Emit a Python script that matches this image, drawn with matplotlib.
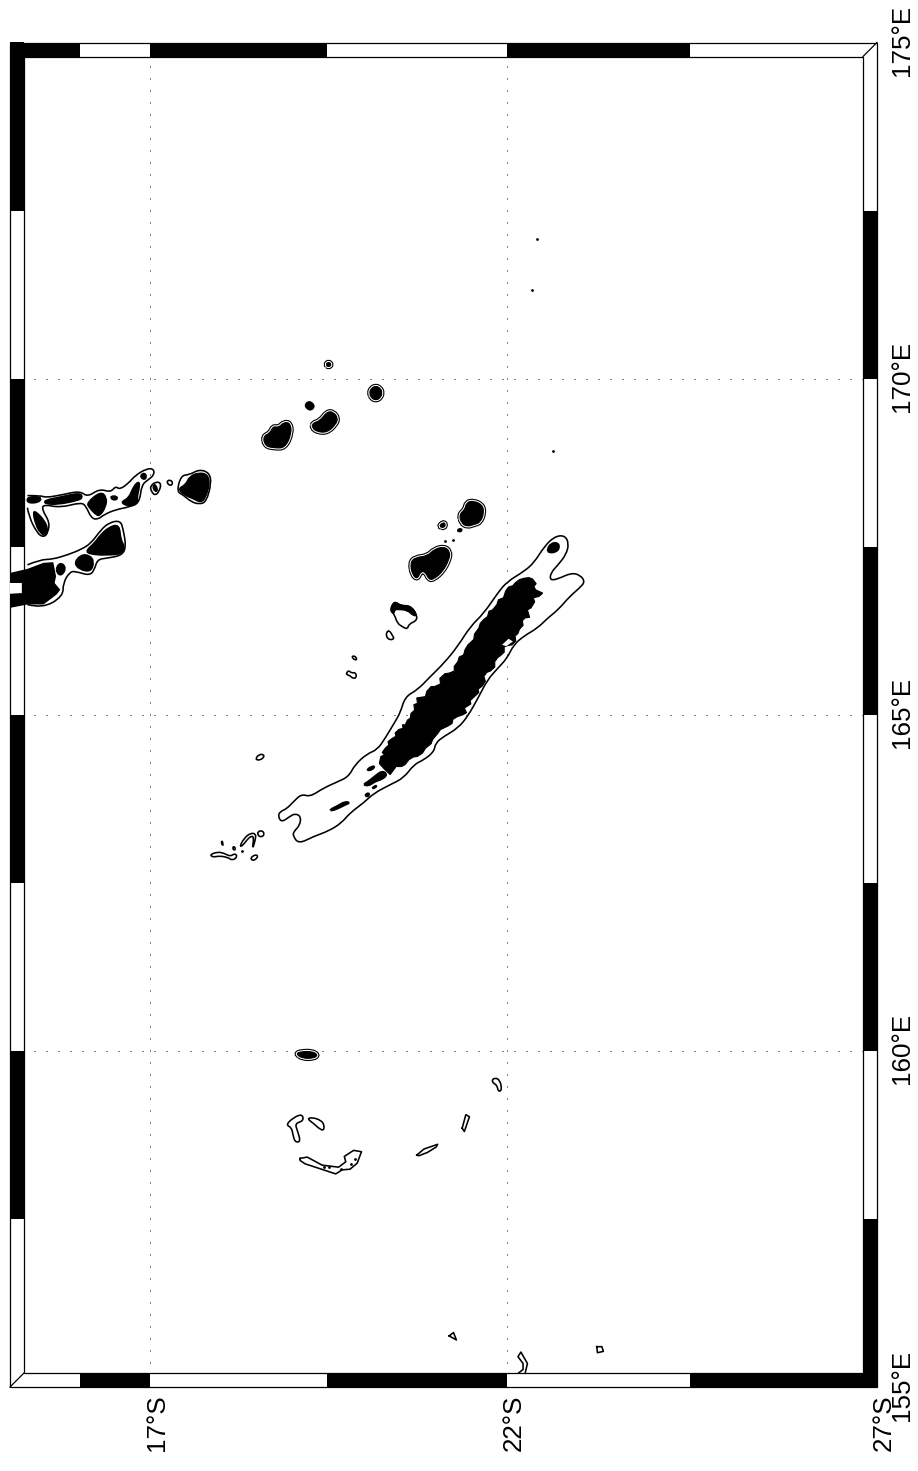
import numpy as np
import matplotlib
matplotlib.use('Agg')
import matplotlib.pyplot as plt
from matplotlib.patches import Rectangle, PathPatch
from matplotlib.path import Path

plt.rcParams['font.family'] = ['Liberation Sans', 'DejaVu Sans']

# Everything below is (degrees south, degrees east)
lon_ticks = [155, 160, 165, 170, 175]
lat_ticks = [17, 22, 27]
lon_grid = [160, 165, 170]
lat_grid = [17, 22]
lon_bands = [155, 157.5, 160, 162.5, 165, 167.5, 170, 172.5, 175]
lat_bands = [15, 16, 17, 19.5, 22, 24.5, 27]

# Contour lines only
main_contour = [(18.81,163.49),(18.84,163.56),(18.93,163.60),(19.03,163.71),(19.14,163.82),(19.26,163.78),(19.45,163.91),
    (19.64,164.00),(19.80,164.08),(19.89,164.26),(20.06,164.42),(20.20,164.48),(20.31,164.65),(20.45,164.90),(20.52,165.03),
    (20.59,165.27),(20.76,165.37),(20.94,165.57),(21.13,165.77),(21.32,166.02),(21.49,166.31),(21.68,166.51),(21.87,166.81),
    (22.00,166.98),(22.23,167.13),(22.37,167.26),(22.51,167.50),(22.65,167.65),(22.79,167.67),(22.85,167.55),(22.81,167.38),
    (22.70,167.23),(22.60,167.11),(22.59,167.00),(22.70,167.02),(22.88,167.11),(23.00,167.08),(23.07,166.98),(23.00,166.89),
    (22.86,166.76),(22.70,166.56),(22.56,166.44),(22.42,166.29),(22.23,166.17),(22.09,166.04),(22.00,165.84),(21.87,165.69),
    (21.73,165.52),(21.61,165.27),(21.46,164.98),(21.32,164.80),(21.13,164.68),(21.01,164.58),(20.99,164.45),(20.85,164.33),
    (20.71,164.26),(20.57,164.06),(20.38,163.96),(20.15,163.83),(20.01,163.69),(19.82,163.54),(19.70,163.39),(19.52,163.27),
    (19.31,163.19),(19.10,163.08),(19.02,163.20),(19.03,163.26),(19.12,163.36),(19.13,163.49),(19.05,163.53),(18.98,163.49),
    (18.86,163.40)]
upper_arm_contour = [(15.25,168.26),(15.45,168.26),(15.51,168.23),(15.74,168.27),(16.00,168.33),(16.11,168.24),(16.28,168.36),
    (16.44,168.31),(16.51,168.40),(16.57,168.35),(16.70,168.45),(16.79,168.56),(16.95,168.66),(17.05,168.66),(17.06,168.57),
    (16.98,168.50),(16.88,168.42),(16.85,168.15),(16.70,168.09),(16.51,168.05),(16.35,167.98),(16.25,167.90),(16.16,167.93),
    (16.09,168.10),(16.02,168.16),(15.72,168.08),(15.48,168.13),(15.46,168.05),(15.57,167.86),(15.54,167.70),(15.48,167.64),
    (15.39,167.70),(15.27,167.95),(15.25,168.08)]
lower_arm_contour = [(15.25,167.23),(15.44,167.31),(15.60,167.31),(15.83,167.38),(16.02,167.46),(16.16,167.55),(16.30,167.75),
    (16.42,167.86),(16.58,167.89),(16.62,167.75),(16.66,167.50),(16.60,167.37),(16.39,167.33),(16.25,167.31),(16.21,167.16),
    (16.14,167.07),(15.95,167.13),(15.86,167.13),(15.76,166.96),(15.76,166.76),(15.46,166.58),(15.25,166.64)]
hook_bottom = [(22.16,155.21),(22.22,155.26),(22.22,155.35),(22.15,155.45),(22.19,155.52),(22.28,155.35),(22.25,155.21)]

efate_contour = [(17.38,168.32),(17.44,168.56),(17.56,168.57),(17.70,168.65),(17.84,168.60),(17.87,168.45),(17.80,168.17),
    (17.70,168.13),(17.58,168.17),(17.47,168.27)]
epi_ring = [(17.23,168.46),(17.28,168.50),(17.33,168.45),(17.29,168.40)]
shepherd_contour = [(17.00,168.40),(17.09,168.47),(17.16,168.44),(17.13,168.32),(17.07,168.26),(17.02,168.32)]
ouvea_contour = [(20.38,166.56),(20.44,166.69),(20.52,166.62),(20.66,166.62),(20.75,166.49),(20.75,166.40),(20.64,166.35),
    (20.62,166.27),(20.55,166.31),(20.48,166.36),(20.44,166.49)]
isle_a = [(20.32,166.17),(20.34,166.25),(20.38,166.24),(20.41,166.18),(20.44,166.13),(20.37,166.11)]
isle_b = [(19.84,165.86),(19.88,165.88),(19.92,165.83),(19.89,165.81)]
isle_c = [(19.77,165.62),(19.80,165.66),(19.84,165.62),(19.90,165.63),(19.91,165.55),(19.86,165.54),(19.82,165.58),(19.77,165.60)]
isle_d = [(18.49,164.34),(18.54,164.41),(18.61,164.41),(18.61,164.36),(18.54,164.32)]
belep_a = [(17.85,162.92),(17.96,162.96),(18.05,162.94),(18.14,162.89),(18.20,162.94),(18.24,162.89),(18.17,162.83),(18.10,162.88),
    (17.98,162.90),(17.89,162.88)]
belep_b = [(18.02,163.14),(18.04,163.05),(18.01,163.08)]
belep_c = [(18.17,163.03),(18.20,163.04),(18.21,162.99),(18.18,162.99)]
belep_d = [(18.27,163.04),(18.33,163.16),(18.42,163.24),(18.50,163.23),(18.49,163.14),(18.46,163.03),(18.45,163.03),(18.47,163.17),
    (18.44,163.20),(18.38,163.15),(18.31,163.05)]
belep_e = [(18.52,163.26),(18.59,163.28),(18.62,163.22),(18.58,163.18),(18.53,163.20)]
belep_f = [(18.42,162.87),(18.49,162.92),(18.53,162.90),(18.50,162.85),(18.45,162.83)]
reef_a = [(18.92,158.90),(19.03,159.01),(19.15,159.06),(19.17,158.96),(19.05,158.92),(19.08,158.82),(19.13,158.65),(19.05,158.64),
    (19.02,158.75),(19.00,158.86)]
reef_b = [(19.22,158.99),(19.29,159.01),(19.41,158.97),(19.46,158.90),(19.45,158.81),(19.38,158.85),(19.31,158.92)]
hook_reef = [(21.79,159.56),(21.83,159.60),(21.90,159.57),(21.93,159.42),(21.88,159.39),(21.86,159.49),(21.81,159.52)]
round_contours = [main_contour, efate_contour, epi_ring, shepherd_contour, ouvea_contour, isle_a, isle_b, isle_c, isle_d, belep_a,
    belep_b, belep_c, belep_d, belep_e, belep_f, reef_a, reef_b, hook_reef]

bellona = [(19.12,158.40),(19.22,158.42),(19.43,158.30),(19.66,158.27),(19.76,158.35),(19.74,158.43),(19.87,158.52),(19.98,158.50),
    (19.92,158.33),(19.82,158.24),(19.71,158.23),(19.62,158.17),(19.19,158.32),(19.12,158.37)]
lens = [(20.75,158.45),(20.85,158.54),(21.04,158.61),(21.02,158.57),(20.90,158.49),(20.78,158.44)]
sliver = [(21.38,158.85),(21.43,159.05),(21.48,159.02),(21.41,158.80)]
triangle = [(21.20,155.76),(21.26,155.81),(21.30,155.70)]
square = [(23.23,155.60),(23.30,155.60),(23.32,155.53),(23.24,155.51)]
straight_contours = [bellona, lens, sliver, triangle, square]

# Land fills
main_land = [(20.23,164.28),(20.25,164.38),(20.30,164.40),(20.27,164.44),(20.31,164.50),(20.36,164.55),(20.35,164.60),(20.41,164.65),
    (20.46,164.68),(20.45,164.73),(20.50,164.78),(20.56,164.80),(20.55,164.85),(20.59,164.85),(20.62,164.92),(20.66,164.95),
    (20.67,165.02),(20.72,165.07),(20.71,165.15),(20.76,165.17),(20.75,165.25),(20.81,165.26),(20.87,165.27),(20.89,165.35),
    (20.95,165.42),(21.00,165.42),(21.08,165.46),(21.07,165.54),(21.14,165.61),(21.20,165.62),(21.27,165.65),(21.27,165.72),
    (21.32,165.79),(21.34,165.86),(21.40,165.89),(21.42,165.97),(21.46,166.04),(21.49,166.07),(21.54,166.12),(21.55,166.20),
    (21.61,166.29),(21.63,166.36),(21.68,166.42),(21.73,166.46),(21.75,166.54),(21.80,166.56),(21.86,166.64),(21.88,166.71),
    (21.95,166.74),(21.98,166.84),(22.02,166.90),(22.08,166.92),(22.11,166.96),(22.17,167.01),(22.23,167.03),(22.30,167.04),
    (22.35,167.02),(22.40,166.95),(22.37,166.91),(22.39,166.86),(22.49,166.81),(22.44,166.76),(22.36,166.74),(22.38,166.68),
    (22.33,166.59),(22.28,166.56),(22.31,166.45),(22.25,166.44),(22.21,166.40),(22.22,166.33),(22.17,166.27),(22.15,166.21),
    (22.11,166.17),(22.12,166.10),(22.07,166.04),(22.01,166.03),(21.96,166.01),(21.96,165.93),(21.91,165.88),(21.87,165.85),
    (21.83,165.79),(21.83,165.71),(21.77,165.65),(21.72,165.63),(21.68,165.57),(21.70,165.50),(21.66,165.43),(21.60,165.38),
    (21.61,165.33),(21.55,165.27),(21.49,165.21),(21.50,165.16),(21.41,165.10),(21.44,165.03),(21.39,165.00),(21.31,164.97),
    (21.25,164.93),(21.24,164.87),(21.18,164.83),(21.12,164.80),(21.08,164.78),(21.04,164.72),(20.97,164.63),(20.95,164.57),
    (20.87,164.50),(20.83,164.43),(20.76,164.38),(20.70,164.37),(20.64,164.33),(20.59,164.26),(20.54,164.23),(20.46,164.23),
    (20.45,164.21),(20.38,164.11),(20.31,164.18),(20.24,164.26)]
main_tail_a = [(20.00,163.96),(20.08,164.01),(20.16,164.08),(20.27,164.17),(20.34,164.11),(20.27,164.04),(20.17,164.01),(20.08,163.94)]
main_tail_b = [(20.05,164.17),(20.10,164.22),(20.17,164.24),(20.13,164.18)]
main_tail_c = [(20.13,163.91),(20.18,163.95),(20.19,163.93),(20.14,163.90)]
main_tail_d = [(20.03,163.81),(20.08,163.84),(20.09,163.80),(20.05,163.78)]
main_tail_e = [(19.54,163.59),(19.64,163.64),(19.75,163.71),(19.82,163.69),(19.75,163.66),(19.66,163.61),(19.56,163.57)]
pines_land = [(22.55,167.45),(22.60,167.55),(22.70,167.56),(22.72,167.48),(22.67,167.42),(22.58,167.41)]
ouvea_rim = [(20.38,166.56),(20.44,166.69),(20.52,166.62),(20.66,166.62),(20.75,166.49),(20.71,166.47),(20.62,166.56),(20.50,166.57),
    (20.44,166.57),(20.43,166.50)]
efate_land = [(17.40,168.36),(17.51,168.42),(17.56,168.54),(17.69,168.60),(17.82,168.57),(17.84,168.42),(17.78,168.22),(17.72,168.16),
    (17.61,168.22),(17.49,168.27)]
shepherd_land = [(17.04,168.40),(17.07,168.43),(17.11,168.34),(17.07,168.32)]
arm_a = [(15.25,168.24),(15.45,168.24),(15.42,168.16),(15.25,168.15)]
arm_b = [(15.50,168.19),(15.74,168.24),(16.00,168.30),(16.04,168.23),(15.97,168.19),(15.69,168.13),(15.50,168.14)]
arm_c = [(16.10,168.15),(16.30,168.32),(16.38,168.23),(16.37,168.10),(16.28,167.95),(16.21,168.00),(16.14,168.08)]
arm_d = [(16.44,168.25),(16.53,168.25),(16.53,168.20),(16.46,168.20)]
arm_e = [(16.58,168.16),(16.70,168.22),(16.77,168.40),(16.84,168.47),(16.85,168.40),(16.81,168.22),(16.83,168.15),(16.70,168.10)]
arm_f = [(16.86,168.56),(16.93,168.60),(16.95,168.52),(16.90,168.50)]
arm_g = [(15.33,168.03),(15.39,168.00),(15.48,167.90),(15.54,167.78),(15.52,167.66),(15.44,167.70),(15.37,167.83)]
low_a = [(16.07,167.42),(16.21,167.55),(16.30,167.68),(16.42,167.79),(16.56,167.83),(16.58,167.60),(16.64,167.50),(16.59,167.39),
    (16.39,167.38),(16.23,167.38)]
low_b = [(15.92,167.26),(16.02,167.38),(16.14,167.37),(16.20,167.28),(16.16,167.13),(16.00,167.16)]
low_c = [(15.67,167.21),(15.74,167.26),(15.80,167.18),(15.74,167.07),(15.67,167.11)]
tiny_a = [(19.18,169.60),(19.25,169.67),(19.33,169.59),(19.26,169.52)]
tiny_b = [(21.31,167.74),(21.35,167.77),(21.38,167.75),(21.35,167.72)]
santo_land = [(15.00,167.11),(15.25,167.17),(15.48,167.26),(15.62,167.27),(15.66,167.06),(15.64,166.96),(15.72,166.86),(15.67,166.79),
    (15.48,166.64),(15.25,166.64),(15.00,166.59)]
santo_hole = [(15.00,166.96),(15.17,166.96),(15.17,166.81),(15.00,166.80)]
round_fills = [main_tail_a, main_tail_b, main_tail_c, main_tail_d, main_tail_e, pines_land, ouvea_rim, efate_land,
    shepherd_land, arm_a, arm_b, arm_c, arm_d, arm_e, arm_f, arm_g, low_a, low_b, low_c, tiny_a, tiny_b]
main_fleck = [(21.93,166.04),(22.02,166.13),(22.08,166.09),(21.99,166.02)]

# Islands whose contour hugs the land, so the line is drawn around the fill
maree = [(20.66,167.26),(20.73,167.34),(20.90,167.36),(20.99,167.46),(21.13,167.50),(21.21,167.43),(21.20,167.31),(21.11,167.13),
    (20.99,167.02),(20.92,167.01),(20.87,167.13),(20.80,167.13),(20.76,167.02),(20.69,167.08)]
lifou = [(21.34,167.98),(21.42,168.05),(21.44,168.16),(21.54,168.18),(21.66,168.12),(21.68,168.00),(21.63,167.86),(21.54,167.83),
    (21.45,167.80),(21.37,167.85)]
oval_small = [(21.06,167.80),(21.11,167.86),(21.15,167.84),(21.13,167.78)]
oval_top = [(20.09,169.79),(20.12,169.86),(20.18,169.89),(20.24,169.86),(20.27,169.79),(20.24,169.71),(20.18,169.68),(20.12,169.71)]
ring_top = [(19.48,170.21),(19.52,170.25),(19.56,170.21),(19.52,170.17)]
erromango = [(19.30,169.34),(19.40,169.37),(19.50,169.51),(19.59,169.50),(19.65,169.41),(19.62,169.32),(19.50,169.20),(19.36,169.21),(19.29,169.27)]
tanna = [(18.60,169.14),(18.70,169.19),(18.74,169.29),(18.82,169.27),(18.89,169.35),(18.98,169.34),(19.00,169.19),(18.91,168.97),
    (18.75,168.97),(18.63,169.00)]
chesterfield = [(19.06,159.96),(19.15,159.99),(19.29,159.99),(19.37,159.94),(19.31,159.89),(19.15,159.89)]
rimmed = [maree, lifou, oval_small, oval_top, ring_top, erromango, tanna, chesterfield]

dot_lat = [22.41, 22.34, 22.63, 21.14, 21.25, 18.30, 19.84, 19.89, 19.45, 19.52, 19.70]
dot_lon = [172.07, 171.32, 168.93, 167.58, 167.60, 162.98, 158.32, 158.39, 158.28, 158.27, 158.25]


def merc(lat):
    return np.log(np.tan(np.pi / 4 + np.radians(np.abs(lat)) / 2))


def merc_inv(m):
    return np.degrees(2 * np.arctan(np.exp(m)) - np.pi / 2)


def unzip(pts, close=False):
    if close:
        pts = pts + pts[:1]
    return [p[0] for p in pts], [p[1] for p in pts]


def round_path(pts):
    # Closed path: read points are the control points of quadratic curves
    arr = np.array(pts, dtype=float)
    mids = (arr + np.roll(arr, -1, axis=0)) / 2
    verts = [mids[-1]]
    codes = [Path.MOVETO]
    for p, m in zip(arr, mids):
        verts += [p, m]
        codes += [Path.CURVE3, Path.CURVE3]
    return Path(verts, codes)


def round_open_path(pts):
    arr = np.array(pts, dtype=float)
    verts = [arr[0]]
    codes = [Path.MOVETO]
    for i in range(1, len(arr) - 1):
        end = arr[i + 1] if i == len(arr) - 2 else (arr[i] + arr[i + 1]) / 2
        verts += [arr[i], end]
        codes += [Path.CURVE3, Path.CURVE3]
    return Path(verts, codes)


fig = plt.figure(figsize=(9.18, 14.71), dpi=100)
ax = fig.add_axes([10 / 918, (1471 - 1387) / 1471, 867 / 918, 1344.5 / 1471])
ax.set_xscale('function', functions=(merc, merc_inv))
ax.set_xlim(15, 27)
ax.set_ylim(155, 175)
ax.axis('off')

line_w = 1.15
dots = (0, (1, 11))
for lon in lon_grid:
    ax.plot([15, 27], [lon, lon], color='k', lw=0.72, ls=dots, zorder=1)
for lat in lat_grid:
    ax.plot([lat, lat], [175, 155], color='k', lw=0.72, ls=dots, zorder=1)

# Coast and contour lines
for pts in round_contours:
    ax.add_patch(PathPatch(round_path(pts), fc='none', ec='k', lw=line_w, zorder=3))
for pts in [upper_arm_contour, lower_arm_contour]:
    ax.add_patch(PathPatch(round_open_path(pts), fc='none', ec='k', lw=line_w, zorder=3))
for pts in straight_contours:
    x, y = unzip(pts, close=True)
    ax.plot(x, y, color='k', lw=line_w, zorder=3)
x, y = unzip(hook_bottom)
ax.plot(x, y, color='k', lw=line_w, zorder=3)

for pts in round_fills:
    ax.add_patch(PathPatch(round_path(pts), fc='k', ec='k', lw=1.4, zorder=3))
x, y = unzip(main_land)
ax.fill(x, y, color='k', lw=0.8, zorder=3)
x, y = unzip(main_fleck)
ax.fill(x, y, color='w', lw=0, zorder=3.1)

for pts in rimmed:
    ax.add_patch(PathPatch(round_path(pts), fc='none', ec='k', lw=4.0, zorder=3))
    ax.add_patch(PathPatch(round_path(pts), fc='none', ec='w', lw=2.4, zorder=3.1))
    ax.add_patch(PathPatch(round_path(pts), fc='k', ec='k', lw=0.9, zorder=3.2))

ax.scatter(dot_lat, dot_lon, s=4, color='k', lw=0, zorder=3)

# Checkered border
w_x = 14 / 867
w_y = 14 / 1344.5
y_tf = ax.get_yaxis_transform()
x_tf = ax.get_xaxis_transform()
for i in range(len(lon_bands) - 1):
    lo, hi = lon_bands[i], lon_bands[i + 1]
    left_black = i % 2 == 1
    ax.add_patch(Rectangle((0, lo), w_x, hi - lo, transform=y_tf, fc='k' if left_black else 'w', ec='none', zorder=4, clip_on=False))
    ax.add_patch(Rectangle((1 - w_x, lo), w_x, hi - lo, transform=y_tf, fc='w' if left_black else 'k', ec='none', zorder=4, clip_on=False))
for i in range(len(lat_bands) - 1):
    lo, hi = lat_bands[i], lat_bands[i + 1]
    top_black = i % 2 == 0
    ax.add_patch(Rectangle((lo, 1 - w_y), hi - lo, w_y, transform=x_tf, fc='k' if top_black else 'w', ec='none', zorder=4, clip_on=False))
    ax.add_patch(Rectangle((lo, 0), hi - lo, w_y, transform=x_tf, fc='w' if top_black else 'k', ec='none', zorder=4, clip_on=False))

tr = ax.transAxes
ax.add_patch(Rectangle((0, 0), 1, 1, transform=tr, fc='none', ec='k', lw=0.9, zorder=5, clip_on=False))
ax.add_patch(Rectangle((w_x, w_y), 1 - 2 * w_x, 1 - 2 * w_y, transform=tr, fc='none', ec='k', lw=0.9, zorder=5, clip_on=False))
ax.plot([0, w_x], [0, w_y], transform=tr, color='k', lw=0.9, zorder=5, clip_on=False)
ax.plot([1 - w_x, 1], [1 - w_y, 1], transform=tr, color='k', lw=0.9, zorder=5, clip_on=False)

# Santo runs over the border in the original
x, y = unzip(santo_land)
ax.fill(x, y, color='k', lw=0, zorder=6)
x, y = unzip(santo_hole)
ax.fill(x, y, color='w', lw=0, zorder=6.1)

for lon in lon_ticks:
    ax.annotate(f'{lon}\u00b0E', xy=(1, lon), xycoords=y_tf, xytext=(32, 2), textcoords='offset pixels',
                rotation=90, rotation_mode='anchor', ha='center', va='baseline', fontsize=18.7)
for lat in lat_ticks:
    ax.annotate(f'{lat}\u00b0S', xy=(lat, 0), xycoords=x_tf, xytext=(14, -36), textcoords='offset pixels',
                rotation=90, rotation_mode='anchor', ha='center', va='baseline', fontsize=18.7)

fig.savefig('out.png', dpi=100)
